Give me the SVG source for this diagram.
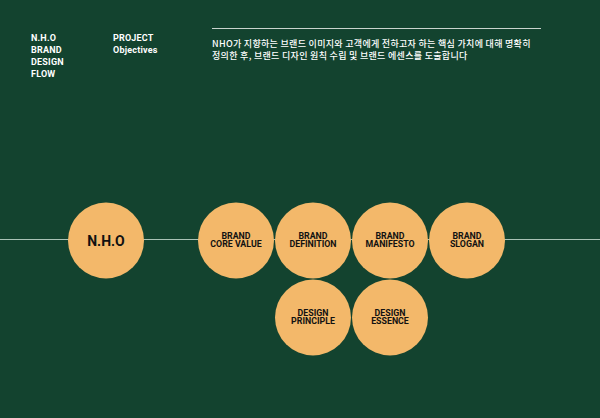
<svg xmlns="http://www.w3.org/2000/svg" width="600" height="418" viewBox="0 0 600 418">
<style>
.hd{font-family:Roboto,"Liberation Sans",sans-serif;font-weight:700;font-size:9px;fill:#ffffff;letter-spacing:0.2px}
.kr{font-family:"Noto Sans CJK KR","Noto Sans",sans-serif;font-weight:500;font-size:9px;fill:#ffffff;letter-spacing:0.3px}
.c{fill:#f3b86a}
.t{font-family:Roboto,"Liberation Sans",sans-serif;font-weight:700;font-size:8.8px;fill:#111111;text-anchor:middle}
.big{font-size:14px}
.ln{stroke:#a9c2b6;stroke-width:1.2;fill:none}
</style>
<rect width="600" height="418" fill="#13432f"/>
<g id="header">
<text class="hd" x="31" y="41">N.H.O</text>
<text class="hd" x="31" y="53">BRAND</text>
<text class="hd" x="31" y="65">DESIGN</text>
<text class="hd" x="31" y="77">FLOW</text>
<text class="hd" x="113" y="41">PROJECT</text>
<text class="hd" x="113" y="53">Objectives</text>
<line x1="212" y1="28.5" x2="541" y2="28.5" stroke="#c9d3cd" stroke-width="1"/>
<text class="kr" x="212" y="46.5">NHO가 지향하는 브랜드 이미지와 고객에게 전하고자 하는 핵심 가치에 대해 명확히</text>
<text class="kr" x="212" y="58.5">정의한 후, 브랜드 디자인 원칙 수립 및 브랜드 에센스를 도출합니다</text>
</g>
<g id="connectors">
<line class="ln" x1="0" y1="239.5" x2="600" y2="239.5"/>
</g>
<g id="nho"><circle class="c" cx="106" cy="240.5" r="38"/><text class="t big" x="106" y="245.5">N.H.O</text></g>
<g id="core-value"><circle class="c" cx="236" cy="240.5" r="38"/><text class="t" x="236" y="238.5">BRAND</text><text class="t" x="236" y="247">CORE VALUE</text></g>
<g id="definition"><circle class="c" cx="313" cy="240.5" r="38"/><text class="t" x="313" y="238.5">BRAND</text><text class="t" x="313" y="247">DEFINITION</text></g>
<g id="manifesto"><circle class="c" cx="390" cy="240.5" r="38"/><text class="t" x="390" y="238.5">BRAND</text><text class="t" x="390" y="247">MANIFESTO</text></g>
<g id="slogan"><circle class="c" cx="467" cy="240.5" r="38"/><text class="t" x="467" y="238.5">BRAND</text><text class="t" x="467" y="247">SLOGAN</text></g>
<g id="principle"><circle class="c" cx="313" cy="317.5" r="38"/><text class="t" x="313" y="315.5">DESIGN</text><text class="t" x="313" y="324">PRINCIPLE</text></g>
<g id="essence"><circle class="c" cx="390" cy="317.5" r="38"/><text class="t" x="390" y="315.5">DESIGN</text><text class="t" x="390" y="324">ESSENCE</text></g>
</svg>
